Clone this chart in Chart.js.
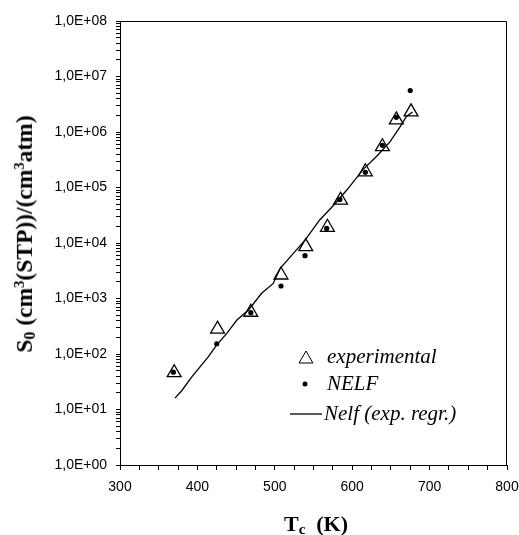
<!DOCTYPE html>
<html>
<head>
<meta charset="utf-8">
<script src="https://cdn.jsdelivr.net/npm/chart.js@4.4.1/dist/chart.umd.min.js"></script>
<style>
  body { margin: 0; background: #fff; }
  #wrap { position: relative; width: 519px; height: 535px; }
  .ttl { position: absolute; font-family: "Liberation Serif", "Times New Roman", serif; font-weight: bold; color: #000; white-space: nowrap; line-height: 1; }
  .ttl sub { font-size: 0.68em; vertical-align: -0.2em; }
  .ttl sup { font-size: 0.62em; vertical-align: 0.55em; }
  #ytitle { left: 25px; top: 234px; font-size: 23.5px; transform: translate(-50%, -50%) rotate(-90deg); }
  #xtitle { left: 316px; top: 513px; font-size: 22px; transform: translateX(-50%); }
</style>
</head>
<body>
<div id="wrap">
  <canvas id="solChart" width="519" height="535"></canvas>
  <div class="ttl" id="ytitle">S<sub>0</sub> (cm<sup>3</sup>(STP))/(cm<sup>3</sup>atm)</div>
  <div class="ttl" id="xtitle">T<sub>c</sub>&nbsp; (K)</div>
</div>
<script>
// experimental points
const expT = [370, 426, 469, 508, 540, 568, 585, 617, 639, 657, 676];
const expS = [46, 280, 565, 2650, 8600, 19200, 59000, 192000, 543000, 1650000, 2300000];

// NELF predictions
const nelfT = [369, 425, 469, 508, 539, 567, 584, 617, 639, 657, 675];
const nelfS = [47, 153, 555, 1680, 5900, 18300, 61000, 188000, 575000, 1840000, 5600000];

// Nelf (exp. regr.) curve
const regT = [371, 380, 393, 414, 425, 438, 451, 466, 483, 498, 507, 524, 539, 558, 576, 593, 614, 632, 649, 662, 670, 678];
const regS = [16, 22, 39, 89, 146, 236, 410, 620, 1240, 1870, 3500, 6500, 11300, 26000, 48000, 90000, 210000, 370000, 670000, 1250000, 1900000, 2300000];

const xMin = 300, xMax = 800, xStep = 25, xLabelStep = 100;
const yMinExp = 0, yMaxExp = 8;

const legendLabels = ['experimental', 'NELF', 'Nelf (exp. regr.)'];

function toPts(xs, ys) {
    return xs.map((x, i) => ({ x: x, y: ys[i] }));
}

function sciLabel(v) {
    const e = Math.round(Math.log10(v));
    return '1,0E+' + (e < 10 ? '0' : '') + e;
}

// box around the plot + legend inside
const framePlugin = {
    id: 'frame',
    afterDatasetsDraw(chart) {
        const { ctx, chartArea: a } = chart;
        ctx.save();
        ctx.strokeStyle = '#000';
        ctx.lineWidth = 1;
        ctx.beginPath();
        ctx.moveTo(a.left, a.top + 0.5);
        ctx.lineTo(a.right - 0.5, a.top + 0.5);
        ctx.lineTo(a.right - 0.5, a.bottom);
        ctx.stroke();

        // legend
        const lx = 306, tx = 327;
        const rows = [357, 384, 414];
        ctx.fillStyle = '#fff';
        ctx.strokeStyle = '#000';
        Chart.helpers.drawPoint(ctx, {
            pointStyle: 'triangle', radius: 8, rotation: 0, borderWidth: 1.3
        }, lx, rows[0] + 2);
        ctx.fillStyle = '#000';
        ctx.beginPath();
        ctx.arc(lx - 1, rows[1], 2.5, 0, Math.PI * 2);
        ctx.fill();
        ctx.beginPath();
        ctx.lineWidth = 1.3;
        ctx.moveTo(290, rows[2]);
        ctx.lineTo(322, rows[2]);
        ctx.stroke();

        ctx.font = 'italic 21px "Liberation Serif", serif';
        ctx.textBaseline = 'middle';
        ctx.textAlign = 'left';
        ctx.fillStyle = '#000';
        ctx.fillText(legendLabels[0], tx, rows[0]);
        ctx.fillText(legendLabels[1], tx, rows[1]);
        ctx.fillText(legendLabels[2], tx - 3, rows[2]);
        ctx.restore();
    }
};

const ctx = document.getElementById('solChart');

new Chart(ctx.getContext('2d'), {
    type: 'scatter',
    data: {
        datasets: [
            {
                label: legendLabels[0],
                data: toPts(expT, expS),
                pointStyle: 'triangle',
                pointRadius: 8,
                pointBackgroundColor: '#fff',
                pointBorderColor: '#000',
                pointBorderWidth: 1.3,
                showLine: false,
                order: 3
            },
            {
                label: legendLabels[2],
                data: toPts(regT, regS),
                showLine: true,
                borderColor: '#000',
                borderWidth: 1.3,
                pointRadius: 0,
                tension: 0,
                order: 2
            },
            {
                label: legendLabels[1],
                data: toPts(nelfT, nelfS),
                pointStyle: 'circle',
                pointRadius: 2.6,
                pointBackgroundColor: '#000',
                pointBorderColor: '#000',
                pointBorderWidth: 0,
                showLine: false,
                order: 1
            }
        ]
    },
    options: {
        responsive: false,
        animation: false,
        layout: { autoPadding: false, padding: { left: 0, right: 12, top: 21, bottom: 0 } },
        scales: {
            x: {
                type: 'linear',
                min: xMin,
                max: xMax,
                afterFit: s => {
                    s.height = 70;
                    s.paddingLeft = 0;
                    s.paddingRight = 0;
                },
                afterBuildTicks: s => {
                    const t = [];
                    for (let v = xMin; v <= xMax; v += xStep) t.push({ value: v });
                    s.ticks = t;
                },
                grid: { drawOnChartArea: false, drawTicks: true, tickLength: 5, color: '#000', tickColor: '#000' },
                border: { display: true, color: '#000', width: 1 },
                ticks: {
                    autoSkip: false,
                    maxRotation: 0,
                    padding: 9,
                    color: '#000',
                    font: { family: '"Liberation Sans", Arial, sans-serif', size: 14 },
                    callback: v => (v % xLabelStep === 0 ? String(v) : '')
                }
            },
            y: {
                type: 'logarithmic',
                min: Math.pow(10, yMinExp),
                max: Math.pow(10, yMaxExp),
                afterFit: s => {
                    s.width = 120;
                    s.paddingTop = 0;
                    s.paddingBottom = 0;
                },
                afterBuildTicks: s => {
                    const t = [];
                    for (let e = yMinExp; e < yMaxExp; e++) {
                        for (let m = 1; m < 10; m++) t.push({ value: m * Math.pow(10, e) });
                    }
                    t.push({ value: Math.pow(10, yMaxExp) });
                    s.ticks = t;
                },
                grid: { drawOnChartArea: false, drawTicks: true, tickLength: 4, color: '#000', tickColor: '#000' },
                border: { display: true, color: '#000', width: 1 },
                ticks: {
                    autoSkip: false,
                    padding: 9,
                    color: '#000',
                    font: { family: '"Liberation Sans", Arial, sans-serif', size: 14 },
                    callback: v => {
                        const l = Math.log10(v);
                        return Math.abs(l - Math.round(l)) < 1e-9 ? sciLabel(v) : '';
                    }
                }
            }
        },
        plugins: {
            legend: { display: false },
            tooltip: { enabled: false }
        }
    },
    plugins: [framePlugin]
});
</script>
</body>
</html>
